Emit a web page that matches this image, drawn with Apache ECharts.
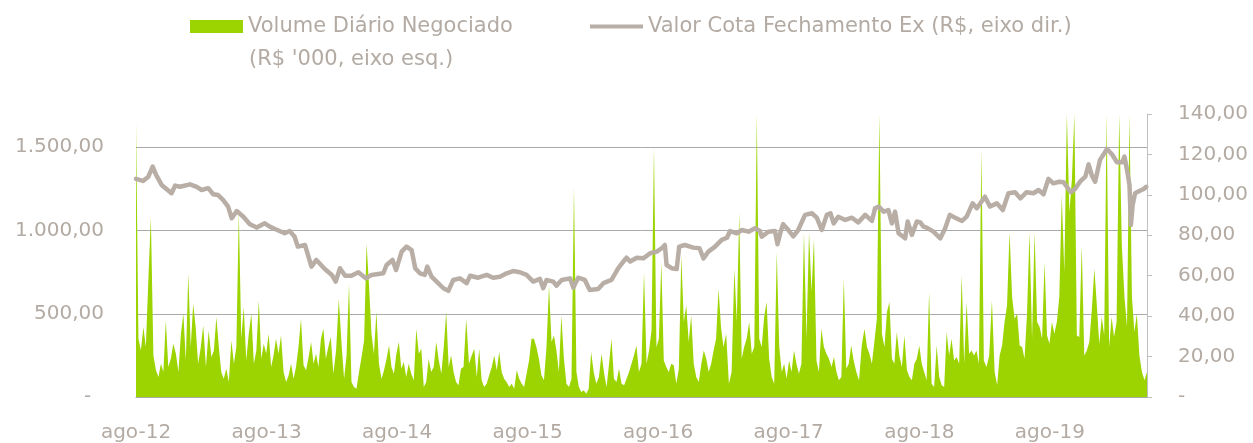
<!DOCTYPE html>
<html><head><meta charset="utf-8">
<script src="https://cdn.jsdelivr.net/npm/echarts@6/dist/echarts.min.js"></script>
<style>html,body{margin:0;padding:0;background:#fff}#c{width:1253px;height:443px}</style>
</head><body><div id="c"></div>
<script>
// ---------- DATA ----------
const xLabels = ['ago-12','ago-13','ago-14','ago-15','ago-16','ago-17','ago-18','ago-19'];
const volumeStart = '2012-08-01';   // weekly samples from this date
const volumeWeekly = [
1650,350,280,420,300,700,1080,250,160,120,200,150,460,180,230,320,260,150,380,500,
220,740,300,560,420,200,290,430,180,400,240,280,480,300,150,110,170,90,340,200,
300,1110,350,540,220,380,500,200,280,580,230,320,260,380,180,250,350,260,370,150,
90,130,200,110,180,300,470,190,160,240,330,200,260,180,350,410,230,300,360,140,
280,590,320,110,250,680,90,60,50,150,240,340,920,670,380,260,510,200,110,160,
230,310,180,140,260,330,170,210,120,200,140,100,410,260,290,60,90,230,150,180,
330,220,140,300,510,180,250,150,90,70,170,180,470,200,250,290,120,290,100,60,
80,130,180,250,160,270,150,110,90,60,80,50,160,110,80,60,140,220,350,350,
300,230,130,100,300,670,330,370,280,150,490,230,80,60,110,1260,150,60,30,40,
20,50,270,150,80,120,260,140,60,200,350,110,90,170,80,70,110,150,200,250,
310,150,200,750,200,280,400,1500,300,350,810,220,180,150,200,190,80,170,850,450,
550,330,490,200,120,90,200,280,230,150,200,280,350,650,420,300,380,80,150,770,
450,1110,230,300,350,450,260,300,1700,350,300,480,570,230,120,80,870,300,150,200,
110,220,150,280,200,140,200,990,350,990,630,950,220,150,410,300,260,230,180,240,
150,100,120,710,170,200,310,220,150,100,310,410,300,260,200,330,470,1700,380,300,
510,570,230,200,390,250,180,370,160,120,100,200,230,310,200,150,100,630,80,60,
310,120,70,60,390,250,350,220,240,200,730,200,570,260,280,250,280,200,1490,220,
180,250,580,150,70,250,310,450,550,990,600,470,500,310,300,230,500,990,350,990,
450,420,350,810,370,320,450,380,450,600,1210,750,1700,1110,1310,1700,370,360,910,250,
280,330,530,770,550,320,480,370,1700,300,480,360,450,1700,910,600,420,1700,600,390,
500,250,150,100,150
];
const priceDates = [
'2012-08-01','2012-08-21','2012-09-05','2012-09-17','2012-09-26','2012-10-12','2012-11-09','2012-11-19','2012-12-02','2012-12-31',
'2013-01-19','2013-02-02','2013-02-19','2013-03-04','2013-03-18','2013-04-01','2013-04-15','2013-04-25','2013-05-09','2013-05-28',
'2013-06-15','2013-07-04','2013-07-27','2013-08-10','2013-08-25','2013-09-21','2013-10-05','2013-10-19','2013-10-28','2013-11-17',
'2013-12-05','2013-12-19','2014-01-12','2014-02-01','2014-02-11','2014-02-22','2014-03-08','2014-03-26','2014-04-14','2014-05-05',
'2014-05-21','2014-06-23','2014-07-02','2014-07-19','2014-07-29','2014-08-14','2014-08-28','2014-09-11','2014-09-21','2014-10-04',
'2014-10-18','2014-10-25','2014-11-06','2014-11-20','2014-12-09','2014-12-23','2015-01-06','2015-01-25','2015-02-12','2015-02-21',
'2015-03-15','2015-04-08','2015-04-26','2015-05-15','2015-06-03','2015-06-21','2015-07-10','2015-07-29','2015-08-17','2015-09-05',
'2015-09-14','2015-09-23','2015-10-12','2015-10-21','2015-11-05','2015-11-28','2015-12-07','2015-12-21','2016-01-09','2016-01-23',
'2016-02-15','2016-02-29','2016-03-23','2016-04-11','2016-04-25','2016-05-04','2016-05-14','2016-06-02','2016-06-20','2016-07-09',
'2016-07-28','2016-08-11','2016-08-20','2016-08-25','2016-09-08','2016-09-22','2016-09-29','2016-10-15','2016-11-08','2016-11-25',
'2016-12-06','2016-12-20','2017-01-08','2017-01-27','2017-02-10','2017-02-18','2017-03-08','2017-03-22','2017-04-10','2017-04-28',
'2017-05-12','2017-05-17','2017-06-05','2017-06-23','2017-06-30','2017-07-09','2017-07-16','2017-07-31','2017-08-14','2017-08-28',
'2017-09-02','2017-09-16','2017-10-05','2017-10-19','2017-11-02','2017-11-16','2017-11-26','2017-12-05','2017-12-18','2018-01-07',
'2018-01-26','2018-02-12','2018-03-02','2018-03-21','2018-03-30','2018-04-09','2018-04-23','2018-05-06','2018-05-16','2018-05-25',
'2018-06-04','2018-06-22','2018-06-29','2018-07-11','2018-07-25','2018-08-04','2018-08-13','2018-08-22','2018-09-10','2018-09-29',
'2018-10-12','2018-10-26','2018-11-10','2018-11-29','2018-12-12','2018-12-29','2019-01-10','2019-02-02','2019-02-15','2019-03-05',
'2019-03-22','2019-04-07','2019-04-25','2019-05-10','2019-05-28','2019-06-16','2019-06-30','2019-07-14','2019-07-28','2019-08-11',
'2019-08-28','2019-09-09','2019-09-29','2019-10-11','2019-10-25','2019-11-09','2019-11-18','2019-11-27','2019-12-06','2019-12-20',
'2020-01-09','2020-01-23','2020-02-06','2020-02-20','2020-02-26','2020-03-04','2020-03-11','2020-03-15','2020-03-20','2020-03-27',
'2020-04-08','2020-04-20','2020-04-27'
];
const priceValues = [
107.9,106.9,109,114,110,104.9,100.8,104.6,104,105.2,
104,102.4,103.3,100.3,99.9,97.5,94.2,88.4,92,89.2,
85.5,83.8,85.9,84.3,83.1,81,82.1,79.3,74.4,75.2,
64.5,67.8,63.3,60.4,57.1,63.7,60,60,61.7,58.7,
60.4,61.2,65.3,67.8,62.8,71.9,74.4,72.7,63.7,61.2,
60.4,64.5,59.5,57.1,53.8,52.5,57.9,58.7,56.3,60,
59,60.4,59,59.5,61.2,62.3,61.7,60.4,57.1,58.4,
53.8,57.9,57.1,55.1,57.9,58.7,54.1,59,57.9,52.9,
53.4,56.3,57.9,63.7,67,68.9,67,68.9,68.6,71.1,
71.9,73.6,75.2,65.3,63.7,63.3,74.4,75.2,73.9,73.6,
68.6,71.9,74.4,77.7,78.8,82.1,81,82.6,81.8,83.5,
82.1,79.3,81.8,82.1,75.6,81.8,85.5,82.6,79.5,82.6,
83.5,90.1,90.9,88.7,82.6,90.1,90.9,85.9,89.2,87.6,
88.7,86.4,90.1,87.1,93.4,94.2,91.7,92.5,85.9,91.7,
81,78.5,86.8,80.2,86.8,86.4,84.3,83.8,81.8,78.5,
83.1,90.1,88.7,87.1,89.2,95.8,93.4,99.1,94.2,95.8,
92.5,100.8,101.3,98.3,101.3,100.8,102.4,100.3,107.9,105.7,
106.5,106.2,101.3,102.9,106.5,109,115.1,109.5,106.5,117.3,
122.7,120.1,116.1,116.1,118.9,112.3,104.9,85.1,95,100.8,
101.9,102.9,104
];

// ---------- HELPERS ----------
function monthsSinceStart(s){ // months elapsed since 2012-08-01 (fractional)
  const p = s.split('-').map(Number);
  const dim = new Date(Date.UTC(p[0], p[1], 0)).getUTCDate();
  return (p[0]-2012)*12 + (p[1]-8) + (p[2]-1)/dim;
}
function isoDate(ms){ return new Date(ms).toISOString().slice(0,10); }
function br(v){
  const s = Math.abs(v).toFixed(2).split('.');
  return s[0].replace(/\B(?=(\d{3})+(?!\d))/g,'.') + ',' + s[1];
}
const t0 = Date.parse(volumeStart + 'T00:00:00Z');
const volData = volumeWeekly.map((v,i)=>[monthsSinceStart(isoDate(t0 + i*7*86400000)), v]);
const priceData = priceDates.map((d,i)=>[monthsSinceStart(d), priceValues[i]]);
const xMax = volData[volData.length-1][0];

const txt = '#b3aba3', green = '#9bd400', lineC = '#b8aea6', grid = '#a9a9a9';
const FF = '"DejaVu Sans", sans-serif';

const chart = echarts.init(document.getElementById('c'), null, {renderer:'canvas'});
chart.setOption({
  animation:false,
  backgroundColor:'#fff',
  grid:{left:136, right:106, top:114, bottom:46},
  legend:[
    {left:190, top:16, padding:0, itemGap:0, itemWidth:53, itemHeight:13, icon:'rect', selectedMode:false,
     data:['Volume Diário Negociado'], textStyle:{color:txt, fontSize:21, fontFamily:FF}},
    {left:590, top:16, padding:0, itemGap:0, itemWidth:53, itemHeight:4, icon:'rect', selectedMode:false,
     data:['Valor Cota Fechamento Ex (R$, eixo dir.)'], textStyle:{color:txt, fontSize:21, fontFamily:FF}}
  ],
  graphic:[{type:'text', left:249, top:49, style:{text:"(R$ '000, eixo esq.)", fill:txt, font:'21px ' + FF}}],
  xAxis:{type:'value', min:0, max:xMax, interval:12,
    axisLine:{show:true, lineStyle:{color:grid}}, axisTick:{show:false}, splitLine:{show:false},
    axisLabel:{showMaxLabel:false, margin:26, color:txt, fontSize:20, fontFamily:FF,
      formatter:v=>{const k=Math.round(v/12); return Math.abs(v-k*12)<1e-6 && xLabels[k] ? xLabels[k] : '';}}},
  yAxis:[
    {type:'value', min:0, max:1700, interval:500,
     axisLine:{show:false}, axisTick:{show:false},
     splitLine:{show:true, showMaxLine:false, lineStyle:{color:grid, width:1}},
     axisLabel:{showMaxLabel:false, margin:32, color:txt, fontSize:20, fontFamily:FF,
       formatter:v=> v===0 ? '-  ' : br(v)}},
    {type:'value', position:'right', min:0, max:140, interval:20,
     axisLine:{show:true, lineStyle:{color:'#bfbfbf'}},
     axisTick:{show:true, length:5, lineStyle:{color:'#bfbfbf'}},
     splitLine:{show:false},
     axisLabel:{margin:31, color:txt, fontSize:20, fontFamily:FF,
       formatter:v=> v===0 ? '-' : br(v)}}
  ],
  series:[
    {name:'Volume Diário Negociado', type:'line', yAxisIndex:0, data:volData,
     showSymbol:false, symbol:'none', lineStyle:{width:0}, itemStyle:{color:green},
     areaStyle:{color:green, opacity:1}, z:1},
    {name:'Valor Cota Fechamento Ex (R$, eixo dir.)', type:'line', yAxisIndex:1, data:priceData,
     showSymbol:false, symbol:'none', itemStyle:{color:lineC},
     lineStyle:{width:4.5, color:lineC, cap:'round', join:'round'}, z:3}
  ]
});
</script></body></html>
